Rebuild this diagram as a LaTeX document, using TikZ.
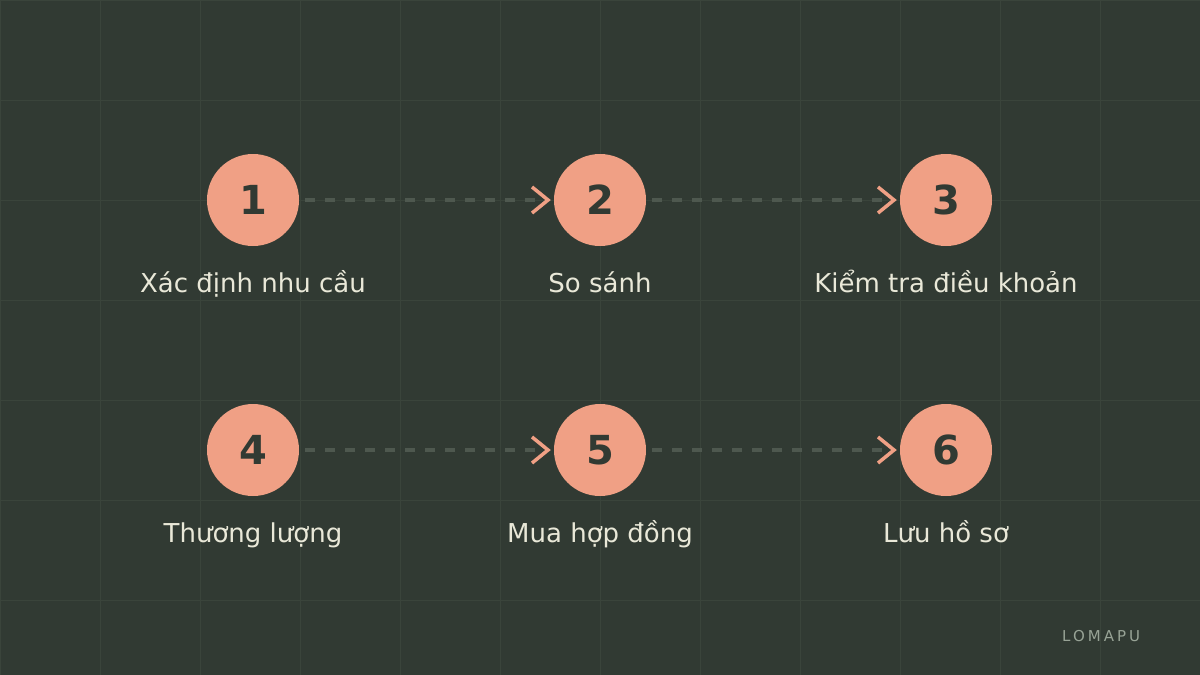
\documentclass[tikz,border=0pt]{standalone}
\usepackage{fontspec}
\setmainfont{DejaVu Sans}
\usetikzlibrary{positioning, arrows.meta}
\definecolor{bgcol}{HTML}{313A33}
\definecolor{gridcol}{HTML}{3A443B}
\definecolor{stepcol}{HTML}{F0A085}
\definecolor{dashcol}{HTML}{4E584F}
\definecolor{textcol}{HTML}{E9E8D8}
\definecolor{markcol}{HTML}{98A396}
\tikzset{%
  every stepnode/.style={
    circle,
    fill=stepcol,
    minimum size=92pt,
    inner sep=0pt,
    text=bgcol,
    font=\fontsize{40}{40}\selectfont\bfseries
  },
  steplabel/.style={
    anchor=base,
    text=textcol,
    font=\fontsize{26}{26}\selectfont
  },
  flow/.style={
    draw=dashcol,
    line width=4pt,
    dash pattern=on 10pt off 10pt,
    shorten <=6pt,
    shorten >=3pt,
    -{Straight Barb[color=stepcol, length=16pt, width=26pt, line width=3.5pt]}
  },
}

\begin{document}
\begin{tikzpicture}[x=1pt, y=-1pt]
\fill [bgcol] (0,0) rectangle (1200,675);
\useasboundingbox (0,0) rectangle (1200,675);
\foreach \g in {0,100,...,1200}
  \draw [gridcol, line width=1pt] (\g,0) -- (\g,675);
\foreach \g in {0,100,...,600}
  \draw [gridcol, line width=1pt] (0,\g) -- (1200,\g);

\foreach \l/\x/\y [count=\i] in {Xác định nhu cầu/253/200, So sánh/600/200,
    Kiểm tra điều khoản/946/200, Thương lượng/253/450,
    Mua hợp đồng/600/450, Lưu hồ sơ/946/450}
{
  \node [every stepnode] (step-\i) at (\x,\y) {\i};
  \node [steplabel] (label-\i) at (\x,\y+92) {\l};
}

\foreach \i/\j in {1/2, 2/3, 4/5, 5/6}
  \draw [flow] (step-\i) -- (step-\j);

\node [anchor=base west, inner sep=0pt, text=markcol,
  font=\fontsize{15}{15}\selectfont\addfontfeature{LetterSpace=20}]
  (brand) at (1062,641) {LOMAPU};
\end{tikzpicture}
\end{document}
